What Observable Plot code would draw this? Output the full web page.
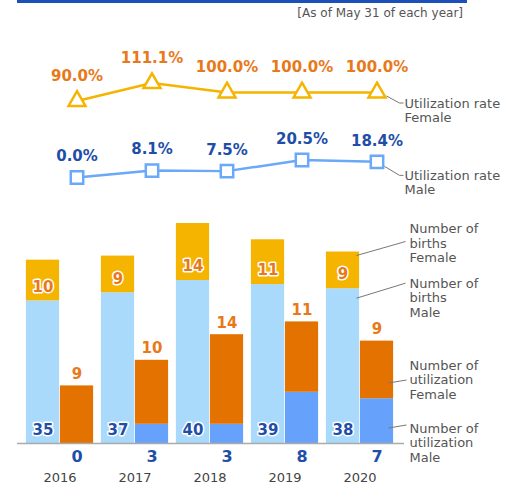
<!DOCTYPE html>
<html><head><meta charset="utf-8">
<script src="https://cdn.jsdelivr.net/npm/d3@7"></script>
<script src="https://cdn.jsdelivr.net/npm/@observablehq/plot@0.6"></script>
<style>
body{margin:0;background:#fff;}
#chart{position:relative;width:527px;height:485px;overflow:hidden;background:#fff;font-family:"DejaVu Sans",sans-serif;}
#chart svg{position:absolute;left:0;top:0;}
#topbar{position:absolute;left:17px;top:0;width:450px;height:3px;background:#1a50b8;}
#note{position:absolute;right:64px;top:6px;font-size:12px;color:#555;white-space:nowrap;}
</style>
</head><body>
<div id="chart"><div id="topbar"></div><div id="note">[As of May 31 of each year]</div></div>
<script>
const years = ["2016", "2017", "2018", "2019", "2020"];
const birthsMale = [35, 37, 40, 39, 38];
const birthsFemale = [10, 9, 14, 11, 9];
const utilMale = [0, 3, 3, 8, 7];
const utilFemale = [9, 10, 14, 11, 9];
const rateFemale = [90.0, 111.1, 100.0, 100.0, 100.0];
const rateMale = [0.0, 8.1, 7.5, 20.5, 18.4];
const labelRateFemale = ["Utilization rate", "Female"];
const labelRateMale = ["Utilization rate", "Male"];
const labelBirthsFemale = ["Number of", "births", "Female"];
const labelBirthsMale = ["Number of", "births", "Male"];
const labelUtilFemale = ["Number of", "utilization", "Female"];
const labelUtilMale = ["Number of", "utilization", "Male"];

const C = {
  birthsMale: "#a9d9fb", birthsFemale: "#f4b400",
  utilMale: "#66a2fb", utilFemale: "#e47200",
  lineF: "#f5b400", lineM: "#6aa8f8",
  textOrange: "#e8791a", textBlue: "#1f4ea8", gray: "#555"
};

const births = years.flatMap((y, i) => [
  {year: y, sex: "Male", value: birthsMale[i], base: 0},
  {year: y, sex: "Female", value: birthsFemale[i], base: birthsMale[i]}
]);
const util = years.flatMap((y, i) => [
  {year: y, sex: "Male", value: utilMale[i], base: 0},
  {year: y, sex: "Female", value: utilFemale[i], base: utilMale[i]}
]);
const rates = years.map((y, i) => ({year: y, female: rateFemale[i], male: rateMale[i]}));

const W = 527, H = 485;
const common = {
  width: W, height: H, marginLeft: 20, marginRight: 128,
  x: {type: "band", domain: years, padding: 0, axis: null},
  style: {fontFamily: "DejaVu Sans", background: "transparent", overflow: "visible"}
};
const halo = {stroke: "white", strokeWidth: 3, strokeLinejoin: "round", paintOrder: "stroke"};

const pB = Plot.plot({
  ...common, marginTop: 223, marginBottom: 42,
  y: {domain: [0, 54], axis: null},
  color: {domain: ["Male", "Female"], range: [C.birthsMale, C.birthsFemale]},
  marks: [
    Plot.barY(births, Plot.stackY({x: "year", y: "value", fill: "sex", insetLeft: 3.9, insetRight: 37.9})),
    Plot.text(births.filter(d => d.sex === "Male"), {x: "year", y: "base", text: d => String(d.value), dx: -17, dy: -13,
      fill: C.textBlue, fontWeight: "bold", fontSize: 15, ...halo}),
    Plot.text(births.filter(d => d.sex === "Female"), {x: "year", y: "base", text: d => String(d.value), dx: -17, dy: -14,
      fill: C.textOrange, fontWeight: "bold", fontSize: 15, ...halo})
  ]
});

const pU = Plot.plot({
  ...common, marginTop: 315, marginBottom: 42,
  y: {domain: [0, 20], axis: null},
  color: {domain: ["Male", "Female"], range: [C.utilMale, C.utilFemale]},
  marks: [
    Plot.barY(util, Plot.stackY({x: "year", y: "value", fill: "sex", insetLeft: 37.9, insetRight: 3.9})),
    Plot.ruleY([0], {stroke: "#aaa", strokeWidth: 1.5, insetLeft: -3, insetRight: -5}),
    Plot.text(util.filter(d => d.sex === "Female"), {x: "year", y: d => d.base + d.value, text: d => String(d.value), dx: 17, dy: -12,
      fill: C.textOrange, fontWeight: "bold", fontSize: 15}),
    Plot.text(util.filter(d => d.sex === "Male"), {x: "year", y: 0, text: d => String(d.value), dx: 17, dy: 13,
      fill: C.textBlue, fontWeight: "bold", fontSize: 16}),
    Plot.text(years, {x: d => d, y: 0, text: d => d, dy: 34, fill: "#444", fontSize: 13})
  ]
});

const pR = Plot.plot({
  ...common, marginTop: 92, marginBottom: 308,
  y: {domain: [0, 100], axis: null},
  marks: [
    Plot.line(rates, {x: "year", y: "female", dx: 17, stroke: C.lineF, strokeWidth: 2.5}),
    Plot.dot(rates, {x: "year", y: "female", dx: 17, symbol: "triangle", r: 6.3, fill: "white", stroke: C.lineF, strokeWidth: 2.5}),
    Plot.text(rates, {x: "year", y: "female", text: d => d.female.toFixed(1) + "%", dx: 17, dy: -25,
      fill: C.textOrange, fontWeight: "bold", fontSize: 15}),
    Plot.line(rates, {x: "year", y: "male", dx: 17, stroke: C.lineM, strokeWidth: 2.5}),
    Plot.dot(rates, {x: "year", y: "male", dx: 17, symbol: "square", r: 7, fill: "white", stroke: C.lineM, strokeWidth: 2.5}),
    Plot.text(rates, {x: "year", y: "male", text: d => d.male.toFixed(1) + "%", dx: 17, dy: -21,
      fill: C.textBlue, fontWeight: "bold", fontSize: 15})
  ]
});

const chart = document.getElementById("chart");
chart.append(pB, pU, pR);

// Annotations positioned from the plots' own scales
const xs = pR.scale("x");
const xC = xs.apply("2020") + xs.bandwidth / 2;
const last = years.length - 1;
const yR = v => pR.scale("y").apply(v);
const yB = v => pB.scale("y").apply(v);
const yU = v => pU.scale("y").apply(v);

const svg = d3.select(chart).append("svg").attr("width", W).attr("height", H)
  .style("font-family", "DejaVu Sans").style("font-size", "13px");

function annotate(points, tx, ty, lines) {
  svg.append("polyline").attr("points", points.map(p => p.join(",")).join(" "))
    .attr("fill", "none").attr("stroke", "#777").attr("stroke-width", 1);
  const t = svg.append("text").attr("fill", C.gray);
  lines.forEach((s, i) => t.append("tspan").attr("x", tx).attr("y", ty + i * 14.5).attr("dy", "0.35em").text(s));
}

const mx = xC + 17;
const yf = yR(rateFemale[last]);
annotate([[mx + 10, yf + 4], [mx + 23, yf + 11], [mx + 27, yf + 11]], mx + 28, yf + 11, labelRateFemale);
const ym = yR(rateMale[last]);
annotate([[mx + 8, ym + 5], [mx + 23, ym + 14], [mx + 27, ym + 14]], mx + 28, ym + 14, labelRateMale);

const tbf = yB(birthsMale[last] + birthsFemale[last]);
annotate([[xC - 3, tbf + 4], [xC + 46, tbf - 10]], xC + 50, tbf - 23, labelBirthsFemale);
const tbm = yB(birthsMale[last]);
annotate([[xC - 3, tbm + 10], [xC + 46, tbm - 5]], xC + 50, tbm - 5, labelBirthsMale);

const y0 = yU(0);
annotate([[xC + 29, y0 - 60], [xC + 47, y0 - 63]], xC + 50, y0 - 78, labelUtilFemale);
annotate([[xC + 29, y0 - 15], [xC + 47, y0 - 18]], xC + 50, y0 - 15, labelUtilMale);
</script>
</body></html>
